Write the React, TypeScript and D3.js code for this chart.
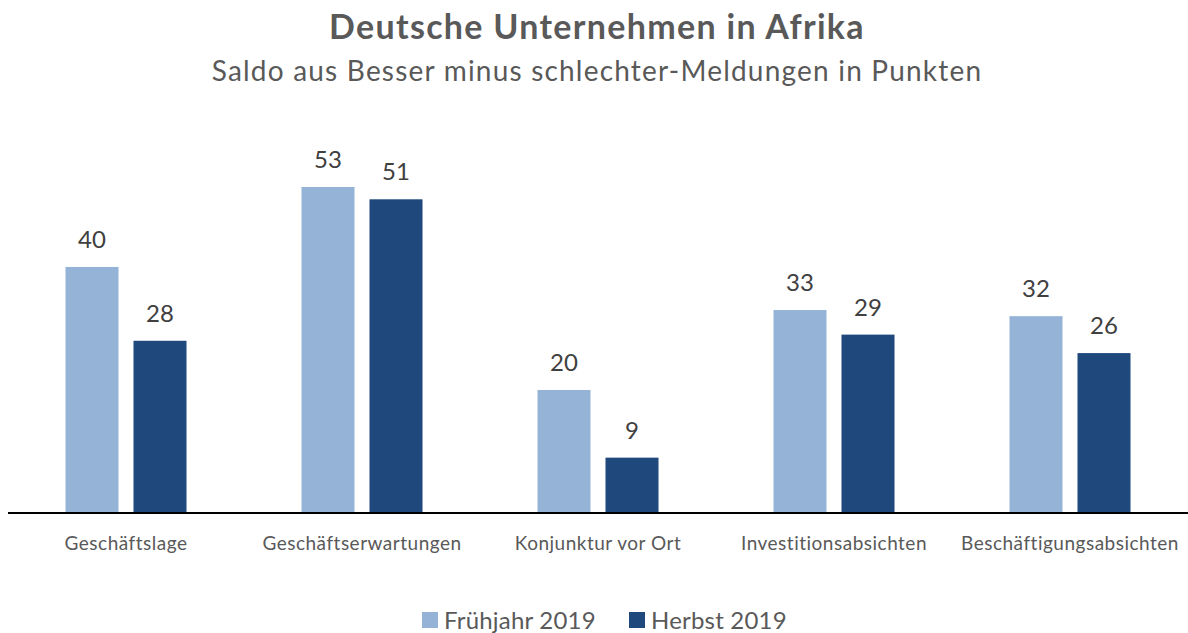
import React from "react";
import * as d3 from "d3";

const categories = ["Geschäftslage", "Geschäftserwartungen", "Konjunktur vor Ort", "Investitionsabsichten", "Beschäftigungsabsichten"];
const seriesNames = ["Frühjahr 2019", "Herbst 2019"];
const fruehjahr = [40, 53, 20, 33, 32];
const herbst = [28, 51, 9, 29, 26];
const colors = ["#95b3d7", "#1f497d"];

const W = 1188;
const H = 633;
const FONT = "'Source Sans Pro', Lato, 'Open Sans', sans-serif";

export default function App() {
  const baseY = 513;
  const x = d3.scaleBand<string>().domain(categories).range([8, 1188]).paddingInner(0).paddingOuter(0);
  const inner = d3.scaleBand<string>().domain(seriesNames).range([57.5, 236 - 57.5]).paddingInner(15 / 68).paddingOuter(0);
  const y = d3.scaleLinear().domain([0, 53]).range([baseY, 187]);
  const series = [fruehjahr, herbst];

  return (
    <svg width={W} height={H} style={{ position: "absolute", left: 0, top: 0, background: "#fff" }} fontFamily={FONT}>
      <text x={597} y={39} textAnchor="middle" fontSize={34} fontWeight={700} fill="#595959" letterSpacing={1.3}>Deutsche Unternehmen in Afrika</text>
      <text x={597} y={81} textAnchor="middle" fontSize={28} fill="#595959" letterSpacing={1.2}>Saldo aus Besser minus schlechter-Meldungen in Punkten</text>
      {categories.map((c, i) => (
        <g key={c} transform={`translate(${x(c)},0)`}>
          {series.map((s, j) => {
            const bx = inner(seriesNames[j])!;
            const bw = inner.bandwidth();
            return (
              <g key={j}>
                <rect x={bx} y={y(s[i])} width={bw} height={baseY - y(s[i])} fill={colors[j]} />
                <text x={bx + bw / 2} y={y(s[i]) - 19} textAnchor="middle" fontSize={24} fill="#404040">{s[i]}</text>
              </g>
            );
          })}
          <text x={x.bandwidth() / 2} y={550} textAnchor="middle" fontSize={19} fill="#595959" letterSpacing={0.5}>{c}</text>
        </g>
      ))}
      <line x1={8} x2={1188} y1={baseY} y2={baseY} stroke="#000" strokeWidth={2} />
      <g>
        <rect x={422} y={612} width={16} height={16} fill={colors[0]} />
        <text x={444} y={629} fontSize={24} fill="#595959" letterSpacing={0.2}>{seriesNames[0]}</text>
        <rect x={629} y={612} width={16} height={16} fill={colors[1]} />
        <text x={651} y={629} fontSize={24} fill="#595959" letterSpacing={0.2}>{seriesNames[1]}</text>
      </g>
    </svg>
  );
}
